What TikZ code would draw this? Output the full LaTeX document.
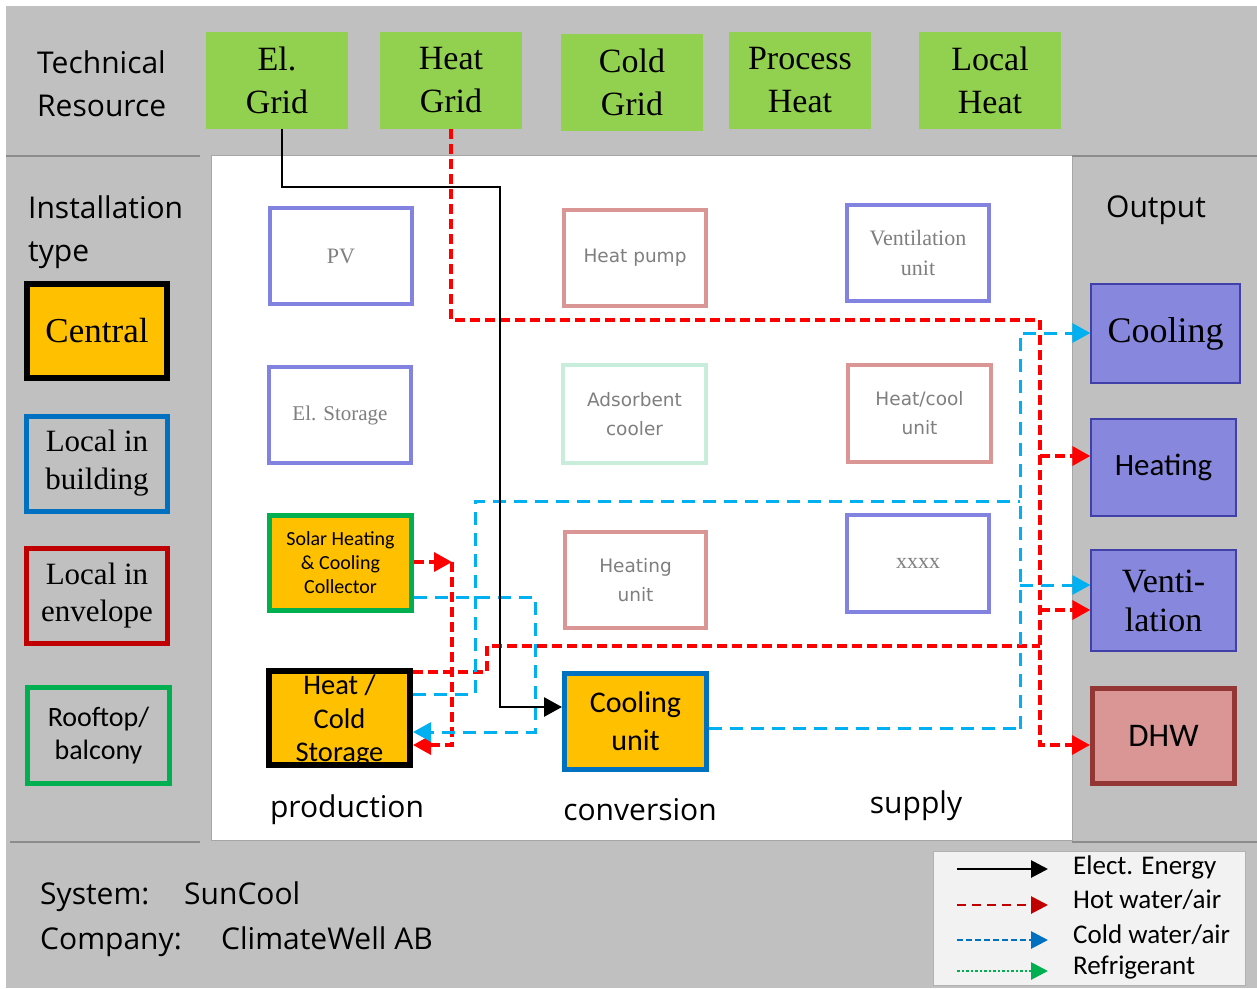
\documentclass[tikz,border=0pt]{standalone}
\usepackage{fontspec}
\setmainfont{Liberation Serif}
\newfontfamily\opensans{Open Sans}
\newfontfamily\calfnt{Carlito}
\newfontfamily\dvsans{DejaVu Sans}
\usetikzlibrary{arrows.meta}
\definecolor{bgray}{HTML}{C0C0C0}
\definecolor{sepline}{HTML}{8C8C8C}
\definecolor{cgreen}{HTML}{92D050}
\definecolor{corange}{HTML}{FFC000}
\definecolor{lav}{HTML}{8282E0}
\definecolor{outfill}{HTML}{8787DD}
\definecolor{outdraw}{HTML}{4040A8}
\definecolor{pinkb}{HTML}{D99694}
\definecolor{mint}{HTML}{C8EDDA}
\definecolor{iblue}{HTML}{0070C0}
\definecolor{ired}{HTML}{C00000}
\definecolor{igreen}{HTML}{00B050}
\definecolor{dhwfill}{HTML}{DA9694}
\definecolor{dhwdraw}{HTML}{943634}
\definecolor{hotc}{HTML}{FF0000}
\definecolor{coldc}{HTML}{00B0F0}
\definecolor{txtgray}{HTML}{7F7F7F}
\definecolor{legfill}{HTML}{F2F2F2}
\begin{document}
\begin{tikzpicture}[x=1pt,y=-1pt,
  >={Triangle[length=18pt,width=19pt]},
  grnbox/.style={fill=cgreen, minimum width=142pt, minimum height=97pt, inner sep=0pt, align=center, font=\fontsize{34}{43}\selectfont},
  hdr/.style={font=\opensans\fontsize{30}{43}\selectfont, align=left, inner sep=0pt},
  sbox/.style={draw, inner sep=0pt, align=center},
  sidebox/.style={sbox, minimum width=141pt, minimum height=95pt, line width=5pt},
  outbox/.style={sbox, fill=outfill, draw=outdraw, line width=1.3pt},
  compbox/.style={sbox, line width=4pt, minimum width=142pt, minimum height=96pt},
  gserif/.style={text=txtgray, font=\fontsize{22}{30}\selectfont},
  gsans/.style={text=txtgray, font=\dvsans\fontsize{18.5}{29}\selectfont},
  elec/.style={line width=2.8pt, black},
  hot/.style={line width=3.5pt, hotc, dash pattern=on 10pt off 5pt},
  cold/.style={line width=3pt, coldc, dash pattern=on 13pt off 8pt},
  legtxt/.style={font=\calfnt\fontsize{27}{30}\selectfont, anchor=west, inner sep=0pt}
]
\useasboundingbox (0,0) rectangle (1257,988);
\fill[white] (0,0) rectangle (1257,988);
\fill[bgray] (6,6) rectangle (1257,988);
% main white panel
\draw[fill=white, draw=gray!70, line width=1pt] (211,155) rectangle (1072,840);
% separator lines
\draw[sepline, line width=2pt] (6,156) -- (200,156);
\draw[sepline, line width=2pt] (1072,156) -- (1257,156);
\draw[sepline, line width=2pt] (10,842) -- (200,842);
\draw[sepline, line width=2pt] (1072,842) -- (1257,842);

% top row
\node[hdr, anchor=west] (techres) at (37,84) {Technical\\Resource};
\node[grnbox] (elg) at (277,80.5) {El.\\Grid};
\node[grnbox] (hg) at (451,80.5) {Heat\\Grid};
\node[grnbox] (cg) at (632,82.5) {Cold\\Grid};
\node[grnbox] (ph) at (800,80.5) {Process\\Heat};
\node[grnbox] (lh) at (990,80.5) {Local\\Heat};

% left column
\node[hdr, anchor=west] (insttype) at (28,232) {Installation\\type};
\node[sidebox, fill=corange, line width=6pt, minimum width=140pt, minimum height=94pt, font=\fontsize{35}{40}\selectfont] (central) at (97,331) {Central};
\node[sidebox, draw=iblue, font=\fontsize{31}{38}\selectfont] (lib) at (97,463.5) {Local in\\building};
\node[sidebox, draw=ired, font=\fontsize{31}{37}\selectfont] (lie) at (97,596) {Local in\\envelope};
\node[sidebox, draw=igreen, minimum width=142pt, minimum height=96pt, font=\calfnt\fontsize{28}{33}\selectfont] (roof) at (98.5,735.5) {Rooftop/\\balcony};

% right column
\node[hdr, anchor=center] (outlbl) at (1156,210) {Output};
\node[outbox, minimum width=149pt, minimum height=99pt, font=\fontsize{36}{40}\selectfont] (cool) at (1165.5,333.5) {Cooling};
\node[outbox, minimum width=145pt, minimum height=97pt, font=\calfnt\fontsize{31}{36}\selectfont] (heat) at (1163.5,467.5) {Heating};
\node[outbox, minimum width=145pt, minimum height=101pt, font=\fontsize{34}{39}\selectfont] (vent) at (1163.5,600.5) {Venti-\\lation};
\node[sbox, fill=dhwfill, draw=dhwdraw, line width=5pt, minimum width=142pt, minimum height=95pt, font=\calfnt\fontsize{33}{36}\selectfont] (dhw) at (1163.5,736) {DHW};

% production column
\node[compbox, draw=lav, gserif] (pv) at (341,256) {PV};
\node[compbox, draw=lav, gserif, font=\fontsize{21}{30}\selectfont] (els) at (340,415) {El. Storage};
\node[compbox, draw=igreen, fill=corange, line width=5pt, minimum height=95pt, font=\calfnt\fontsize{20}{24}\selectfont] (shc) at (340.5,563) {Solar Heating\\\& Cooling\\Collector};
\node[compbox, draw=black, fill=corange, line width=6pt, minimum width=141pt, minimum height=94pt, font=\calfnt\fontsize{28.5}{33.5}\selectfont] (hcs) at (339.5,718) {};
\node[font=\calfnt\fontsize{28.5}{33.5}\selectfont, align=center, inner sep=0pt] (hcstxt) at (339.5,721) {Heat /\\Cold\\Storage};

% conversion column
\node[compbox, draw=pinkb, gsans] (hp) at (635,258) {Heat pump};
\node[compbox, draw=mint, gsans, minimum width=143pt, minimum height=98pt] (ads) at (634.5,414) {Adsorbent\\cooler};
\node[compbox, draw=pinkb, gsans, minimum width=141pt] (hu) at (635.5,580) {Heating\\unit};
\node[compbox, draw=iblue, fill=corange, line width=5pt, font=\calfnt\fontsize{30}{38}\selectfont] (cu) at (635.5,721.5) {Cooling\\unit};

% supply column
\node[compbox, draw=lav, gserif] (vu) at (918,253) {Ventilation\\unit};
\node[compbox, draw=pinkb, gsans, minimum width=143pt, minimum height=97pt] (hcu) at (919.5,413.5) {Heat/cool\\unit};
\node[compbox, draw=lav, gserif, minimum height=97pt] (xx) at (918,563.5) {xxxx};

% column labels
\node[hdr, anchor=center] (lprod) at (347,810) {production};
\node[hdr, anchor=center] (lconv) at (640,810) {conversion};
\node[hdr, anchor=center] (lsup) at (916,806) {supply};

% junction coordinates
\coordinate (ej1) at (500,187);
\coordinate (hx) at (1040,320);
\coordinate (cx) at (1020,333);

% hot water connectors
\draw[hot, ->] (hg.south) |- (hx) -- (1040,745) -- (dhw.west |- 0,745);
\draw[hot, ->] (1040,456) -- (heat.west |- 0,456);
\draw[hot, ->] (1040,610) -- (vent.west |- 0,610);
\draw[hot] (hcs.east |- 0,672) -| (487,646) -- (1040,646);
\draw[hot, ->] (shc.east |- 0,562) -- (452,562);
\draw[hot, ->] (452,562) -- (452,745) -- (hcs.east |- 0,745);

% cold water connectors
\draw[cold] (hcs.east |- 0,694) -| (475,501) -- (1020,501);
\draw[cold, ->] (1020,729) -- (cx) -- (cool.west |- cx);
\draw[cold] (cu.east |- 0,728) -- (1020,728);
\draw[cold, ->] (1020,585) -- (vent.west |- 0,585);
\draw[cold, ->] (shc.east |- 0,597) -| (535,732) -- (hcs.east |- 0,732);

% electricity
\draw[elec, ->] ([xshift=5pt]elg.south) |- (ej1) -- (500,707) -- (cu.west |- 0,707);

% system info
\node[hdr, anchor=base west] (sys) at (40,904) {System:};
\node[hdr, anchor=base west] (sysv) at (184,904) {SunCool};
\node[hdr, anchor=base west] (comp) at (40,949) {Company:};
\node[hdr, anchor=base west] (compv) at (221,949) {ClimateWell AB};

% legend
\node[draw=gray!60, fill=legfill, minimum width=312pt, minimum height=134pt, inner sep=0pt, anchor=north west] (legend) at (933,851) {};
\coordinate (l1a) at (957,869); \coordinate (l1b) at (1048,869);
\coordinate (l2a) at (957,905); \coordinate (l2b) at (1048,905);
\coordinate (l3a) at (957,940); \coordinate (l3b) at (1048,940);
\coordinate (l4a) at (957,971); \coordinate (l4b) at (1048,971);
\draw[black, line width=2.8pt, -{Triangle[length=17pt,width=17pt]}] (l1a) -- (l1b);
\draw[ired, line width=2.8pt, dash pattern=on 9pt off 6pt, -{Triangle[length=17pt,width=17pt]}] (l2a) -- (l2b);
\draw[iblue, line width=2.8pt, dash pattern=on 6pt off 3pt, -{Triangle[length=17pt,width=17pt]}] (l3a) -- (l3b);
\draw[igreen, line width=2.8pt, dash pattern=on 2.5pt off 2pt, -{Triangle[length=17pt,width=17pt]}] (l4a) -- (l4b);
\node[legtxt] (lt1) at (1073,867) {Elect. Energy};
\node[legtxt] (lt2) at (1073,900) {Hot water/air};
\node[legtxt] (lt3) at (1073,935) {Cold water/air};
\node[legtxt] (lt4) at (1073,968) {Refrigerant};
\end{tikzpicture}
\end{document}
